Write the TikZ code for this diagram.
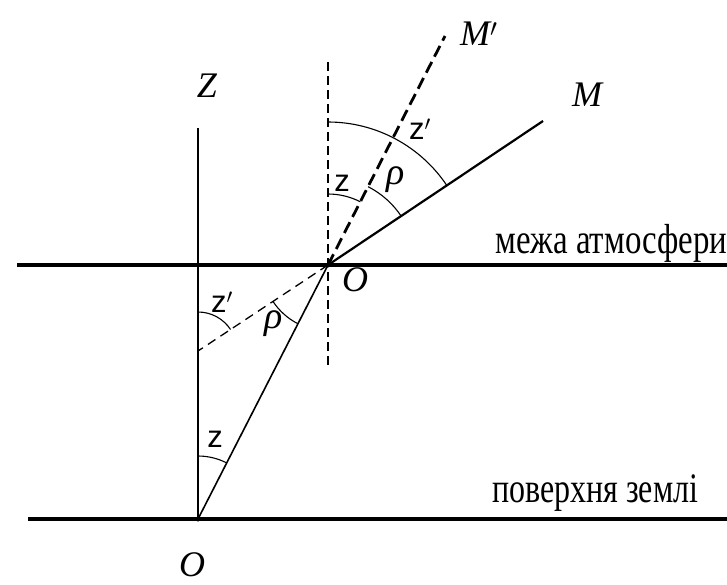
\documentclass[tikz,border=0pt]{standalone}
\usepackage{fontspec}
\setmainfont{Liberation Serif}
\setsansfont{Liberation Sans}
\usepackage{graphicx}
\begin{document}
\begin{tikzpicture}[x=1pt,y=-1pt,
 thickline/.style={line width=4.5pt},
 ray/.style={line width=1.6pt},
 thinarc/.style={line width=1.1pt},
 vdash/.style={line width=1.3pt, dash pattern=on 9pt off 5pt},
 mdash/.style={line width=2.8pt, dash pattern=on 12pt off 6pt},
 ldash/.style={line width=1.3pt, dash pattern=on 9pt off 6pt},
 lbl/.style={font=\fontsize{36}{36}\selectfont\itshape, inner sep=0pt},
 anglbl/.style={font=\fontsize{31}{31}\selectfont\sffamily, inner sep=0pt},
 rholbl/.style={font=\fontsize{38}{38}\selectfont\itshape, inner sep=0pt},
 txt/.style={font=\fontsize{42}{42}\selectfont, inner sep=0pt, anchor=base west}
]
\useasboundingbox (0,0) rectangle (727,584);
\coordinate (L1) at (17,265);
\coordinate (R1) at (727,265);
\coordinate (L2) at (28,519);
\coordinate (R2) at (727,519);
\coordinate (O1) at (328,265);
\coordinate (Og) at (198,519);
\coordinate (Ztop) at (198,128);
\coordinate (Vtop) at (328,62);
\coordinate (Vbot) at (328,367);
\coordinate (Mend) at (543,121);
\coordinate (Mpend) at (445,36);
\coordinate (D) at (198,351);

\draw[thickline] (L1) -- (R1);
\draw[thickline] (L2) -- (R2);
\draw[line width=1.8pt] (Ztop) -- (Og);
\draw[vdash] (Vtop) -- (Vbot);
\draw[ray] (Og) -- (O1);
\draw[line width=2.2pt] (O1) -- (Mend);
\draw[mdash] (O1) -- (Mpend);
\draw[ldash] (O1) -- (D);
\fill (O1) circle (2.5);
\fill (Og) circle (2.5);

% upper arcs
\draw[thinarc] ([shift={(-90:143)}]O1) arc[start angle=-90,end angle=-33.5,radius=143];
\draw[thinarc] ([shift={(-90:71)}]O1) arc[start angle=-90,end angle=-62.9,radius=71];
\draw[thinarc] ([shift={(-62.9:88)}]O1) arc[start angle=-62.9,end angle=-33.5,radius=88];
% lower arcs
\draw[thinarc] ([shift={(146.5:66)}]O1) arc[start angle=146.5,end angle=117.1,radius=66];
\draw[thinarc] ([shift={(-90:63)}]Og) arc[start angle=-90,end angle=-62.9,radius=63];
\draw[thinarc] ([shift={(-90:39)}]D) arc[start angle=-90,end angle=-33.5,radius=39];

% labels
\node[lbl] (Zl) at (207,86) {Z};
\node[lbl] (Ml) at (587,95) {M};
\node[lbl, anchor=west] (Mpl) at (460,34) {M$'$};
\node[lbl] (O1l) at (355,280) {O};
\node[lbl] (Ogl) at (192,565) {O};

\node[anglbl] (zu) at (342,183) {z};
\node[anglbl, anchor=west] (zpu) at (409,129) {z$'$};
\node[rholbl] (rhou) at (396,180) {ρ};
\node[anglbl, anchor=west] (zpl) at (211,302) {z$'$};
\node[rholbl] (rhol) at (274,324) {ρ};
\node[anglbl] (zl) at (215,439) {z};

\node[txt] (atm) at (495,253) {\resizebox{232pt}{\height}{межа атмосфери}};
\node[txt] (earth) at (492,502) {\resizebox{206pt}{\height}{поверхня землі}};
\end{tikzpicture}
\end{document}
